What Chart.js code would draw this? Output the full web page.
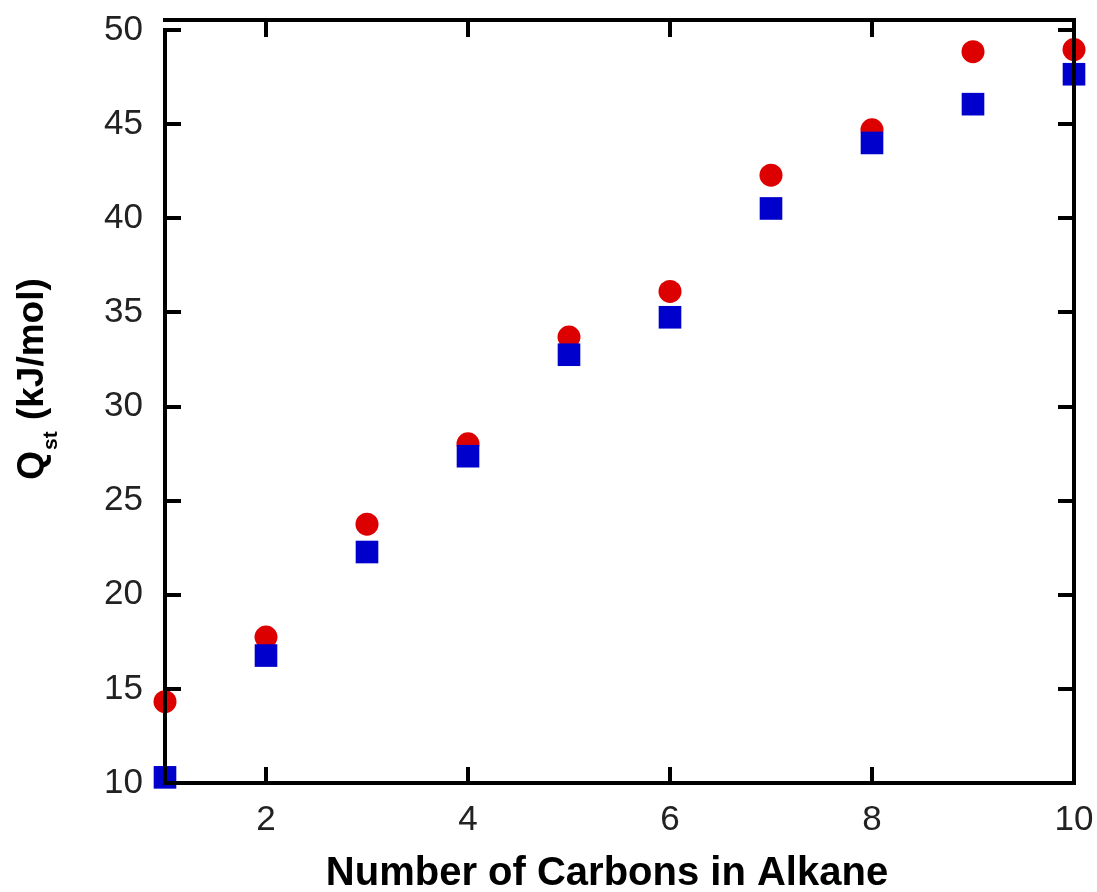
<!DOCTYPE html>
<html>
<head>
<meta charset="utf-8">
<title>Qst vs carbon number</title>
<script src="https://cdn.jsdelivr.net/npm/chart.js@4.4.0/dist/chart.umd.min.js"></script>
<style>
  html, body { margin: 0; padding: 0; background: #fff; }
  #chart { display: block; }
</style>
</head>
<body>
<canvas id="chart" width="1097" height="892"></canvas>
<script>
// heat of adsorption per alkane chain length
const carbons = [1, 2, 3, 4, 5, 6, 7, 8, 9, 10];
const qstRed = [14.32, 17.75, 23.75, 28.02, 33.69, 36.11, 42.29, 44.70, 48.85, 48.96];
const qstBlue = [10.30, 16.77, 22.27, 27.36, 32.75, 34.74, 40.52, 44.00, 46.06, 47.65];

const xTicks = [2, 4, 6, 8, 10];
const yTicks = [10, 15, 20, 25, 30, 35, 40, 45, 50];

const FONT = '"Liberation Sans", Arial, sans-serif';
const INK = '#000';

// frame + inward ticks on all four sides, and the two axis titles
const framePlugin = {
  id: 'frame',
  afterDraw(chart) {
    const { ctx, chartArea: a, scales } = chart;
    const xs = scales.x, ys = scales.y;
    const topY = a.top - 10;
    const tick = 16;
    ctx.save();
    ctx.strokeStyle = INK;
    ctx.lineWidth = 4;
    ctx.lineCap = 'butt';
    ctx.beginPath();
    // left + bottom
    ctx.moveTo(a.left, a.top - 2);
    ctx.lineTo(a.left, a.bottom);
    ctx.moveTo(a.left - 2, a.bottom);
    ctx.lineTo(a.right + 2, a.bottom);
    // top + right
    ctx.moveTo(a.left - 2, topY);
    ctx.lineTo(a.right + 2, topY);
    ctx.moveTo(a.right, topY - 2);
    ctx.lineTo(a.right, a.bottom);
    ctx.stroke();

    ctx.beginPath();
    yTicks.forEach(v => {
      const y = Math.round(ys.getPixelForValue(v));
      ctx.moveTo(a.left, y);
      ctx.lineTo(a.left + tick, y);
      ctx.moveTo(a.right, y);
      ctx.lineTo(a.right - tick, y);
    });
    xTicks.forEach(v => {
      if (v === 10) return;
      const x = Math.round(xs.getPixelForValue(v));
      ctx.moveTo(x, a.bottom);
      ctx.lineTo(x, a.bottom - tick);
      ctx.moveTo(x, topY);
      ctx.lineTo(x, topY + tick + 1);
    });
    ctx.stroke();

    // x title
    ctx.fillStyle = INK;
    ctx.font = 'bold 40px ' + FONT;
    ctx.textAlign = 'center';
    ctx.textBaseline = 'alphabetic';
    ctx.fillText('Number of Carbons in Alkane', 607, 885);

    // y title with subscript
    const main = 'bold 37px ' + FONT;
    const sub = 'bold 21px ' + FONT;
    ctx.font = main;
    const wQ = ctx.measureText('Q').width;
    const wRest = ctx.measureText(' (kJ/mol)').width;
    ctx.font = sub;
    const wSub = ctx.measureText('st').width;
    const total = wQ + wSub + 2 + wRest;
    ctx.translate(43, 379 + total / 2);
    ctx.rotate(-Math.PI / 2);
    ctx.textAlign = 'left';
    ctx.font = main;
    ctx.fillText('Q', 0, 0);
    ctx.font = sub;
    ctx.fillText('st', wQ + 1, 14);
    ctx.font = main;
    ctx.fillText(' (kJ/mol)', wQ + wSub + 2, 0);
    ctx.restore();
  }
};

new Chart(document.getElementById('chart'), {
  type: 'scatter',
  data: {
    datasets: [
      {
        label: 'blue',
        data: carbons.map((c, i) => ({ x: c, y: qstBlue[i] })),
        pointStyle: 'rect',
        pointRadius: 16,
        pointHoverRadius: 16,
        backgroundColor: '#0000cc',
        borderWidth: 0,
        clip: false,
        order: 0
      },
      {
        label: 'red',
        data: carbons.map((c, i) => ({ x: c, y: qstRed[i] })),
        pointStyle: 'circle',
        pointRadius: 11.5,
        pointHoverRadius: 11.5,
        backgroundColor: '#dd0000',
        borderWidth: 0,
        clip: false,
        order: 1
      }
    ]
  },
  options: {
    responsive: false,
    animation: false,
    events: [],
    layout: { padding: { left: 0, right: 23, top: 30, bottom: 0 } },
    plugins: { legend: { display: false }, tooltip: { enabled: false } },
    scales: {
      x: {
        type: 'linear',
        min: 1,
        max: 10,
        afterBuildTicks: s => { s.ticks = xTicks.map(v => ({ value: v })); },
        afterFit: s => { s.height = 109; s.paddingLeft = 0; s.paddingRight = 0; },
        grid: { display: false, drawTicks: false },
        border: { display: false },
        ticks: { padding: 16, color: '#222', font: { family: FONT, size: 35 } }
      },
      y: {
        type: 'linear',
        min: 10,
        max: 50,
        afterBuildTicks: s => { s.ticks = yTicks.map(v => ({ value: v })); },
        afterFit: s => { s.width = 165; s.paddingTop = 0; s.paddingBottom = 0; },
        grid: { display: false, drawTicks: false },
        border: { display: false },
        ticks: { padding: 22, color: '#222', font: { family: FONT, size: 35 } }
      }
    }
  },
  plugins: [framePlugin]
});
</script>
</body>
</html>
